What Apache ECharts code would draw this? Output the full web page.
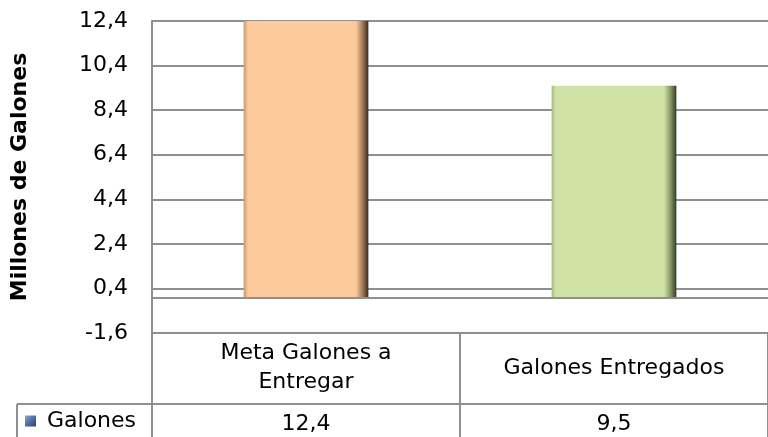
<!DOCTYPE html>
<html><head><meta charset="utf-8">
<script src="https://cdn.jsdelivr.net/npm/echarts@6/dist/echarts.min.js"></script>
<style>html,body{margin:0;padding:0;background:#fff}#c{width:768px;height:437px}</style>
</head><body><div id="c"></div>
<script>
const categories = ['Meta Galones a\nEntregar', 'Galones Entregados'];
const seriesName = 'Galones';
const values = [12.4, 9.5];
const yMin = -1.6, yMax = 12.4, yInterval = 2;
const yTitle = 'Millones de Galones';

const fmt = v => (Math.round(v * 10) / 10).toFixed(1).replace('.', ',');
const FONT = '"DejaVu Sans", Arial, sans-serif';
const GRID = '#8f8f8f';
function bevel(mid, dark, darkest, leftEdge) {
  return new echarts.graphic.LinearGradient(0, 0, 1, 0, [
    {offset: 0, color: leftEdge}, {offset: 0.035, color: mid}, {offset: 0.9, color: mid},
    {offset: 0.95, color: dark}, {offset: 1, color: darkest}]);
}
const barColors = [
  bevel('#fdcb9b', '#a8805d', '#3d2a1b', '#c9976e'),
  bevel('#d1e2a6', '#8c9c6b', '#333b22', '#a9b985')
];
const chart = echarts.init(document.getElementById('c'));
chart.setOption({
  animation: false,
  textStyle: {fontFamily: FONT},
  grid: {left: 152, top: 21, right: -6, bottom: 104, containLabel: false},
  legend: {
    left: 20, top: 405, itemWidth: 11, itemHeight: 11, itemGap: 4,
    icon: 'rect', textStyle: {fontSize: 22, color: '#000', fontFamily: FONT, padding: [0, 0, 0, 6]},
    data: [seriesName]
  },
  xAxis: [{
    type: 'category', data: categories, position: 'bottom',
    axisLine: {show: true, onZero: false, lineStyle: {color: GRID, width: 2}},
    axisTick: {show: true, length: 104, alignWithLabel: false, lineStyle: {color: GRID, width: 2}},
    axisLabel: {fontSize: 22, color: '#000', margin: 35, verticalAlign: 'middle', lineHeight: 29, fontFamily: FONT, interval: 0}
  }, {
    type: 'category', data: categories, position: 'bottom', offset: 71,
    axisLine: {show: true, onZero: false, lineStyle: {color: GRID, width: 2}},
    axisTick: {show: false},
    axisLabel: {fontSize: 22, color: '#000', margin: 20, verticalAlign: 'middle', fontFamily: FONT, interval: 0,
      formatter: (v, i) => fmt(values[i])}
  }],
  yAxis: {
    type: 'value', min: yMin, max: yMax, interval: yInterval,
    name: yTitle, nameLocation: 'middle', nameRotate: 90, nameGap: 121,
    nameTextStyle: {fontSize: 22, fontWeight: 'bold', color: '#000', fontFamily: FONT},
    axisLine: {show: true, lineStyle: {color: GRID, width: 2}},
    axisTick: {show: false},
    axisLabel: {fontSize: 22, color: '#000', margin: 24, formatter: v => fmt(v), fontFamily: FONT},
    splitLine: {show: true, lineStyle: {color: GRID, width: 2}}
  },
  graphic: [
    {type: 'line', shape: {x1: 17, y1: 404, x2: 152, y2: 404}, style: {stroke: GRID, lineWidth: 2}},
    {type: 'line', shape: {x1: 17, y1: 404, x2: 17, y2: 437}, style: {stroke: GRID, lineWidth: 2}}
  ],
  series: [{
    name: seriesName, type: 'bar', barWidth: '40.5%', xAxisIndex: 0,
    itemStyle: {color: new echarts.graphic.LinearGradient(0, 0, 1, 1, [{offset: 0, color: '#8fa8cf'}, {offset: 0.5, color: '#4f6fa5'}, {offset: 1, color: '#2c4470'}])},
    data: values.map((v, i) => ({value: v, itemStyle: {color: barColors[i]}})),
    markLine: {silent: true, symbol: 'none', label: {show: false},
      lineStyle: {color: GRID, width: 2, type: 'solid'}, data: [{yAxis: 0}]}
  }]
});
</script></body></html>
